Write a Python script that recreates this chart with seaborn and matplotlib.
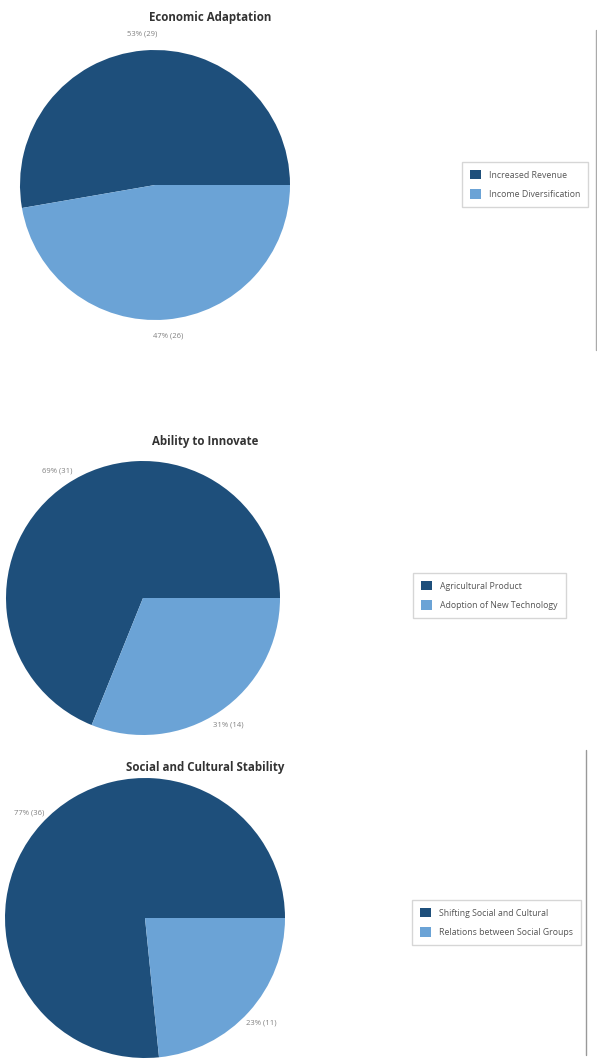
import matplotlib
matplotlib.use('Agg')
import matplotlib.pyplot as plt
import seaborn as sns
from matplotlib.lines import Line2D

sns.set_theme(style='white')
plt.rcParams['font.family'] = ['Open Sans', 'DejaVu Sans']

# datos
titulos = ['Economic Adaptation', 'Ability to Innovate', 'Social and Cultural Stability']
categorias = [
    ['Increased Revenue', 'Income Diversification'],
    ['Agricultural Product', 'Adoption of New Technology'],
    ['Shifting Social and Cultural', 'Relations between Social Groups'],
]
conteos_1 = [29, 26]
conteos_2 = [31, 14]
conteos_3 = [36, 11]
conteos = [conteos_1, conteos_2, conteos_3]

colores = ['#1e4f7b', '#6ba3d6']

W, H = 597, 1059
fig = plt.figure(figsize=(W / 100, H / 100), dpi=100)

# (centro x, centro y, radio) en pixeles, y posicion de titulo / leyenda
pies = [(155, 185, 135), (143, 598, 137), (145, 918, 140)]
tit_pos = [(210, 18), (205, 442), (205, 767)]
leg_pos = [(462, 162), (413, 573), (412, 900)]


def etiqueta(total):
    def f(pct):
        n = int(round(pct * total / 100.0))
        return f'{pct:.0f}% ({n})'
    return f


for i in range(3):
    cx, cy, r = pies[i]
    ax = fig.add_axes([(cx - r) / W, 1 - (cy + r) / H, 2 * r / W, 2 * r / H])
    cuñas, textos, autot = ax.pie(
        conteos[i], colors=colores, startangle=0, counterclock=True,
        autopct=etiqueta(sum(conteos[i])), pctdistance=1.12,
        textprops={'fontsize': 5.5, 'color': '#808080'},
        wedgeprops={'linewidth': 0})
    ax.set_aspect('equal')
    ax.set_xlim(-1, 1)
    ax.set_ylim(-1, 1)
    for t in autot:
        t.set_clip_on(False)

    tx, ty = tit_pos[i]
    fig.text(tx / W, 1 - ty / H, titulos[i], ha='center', va='center',
             fontsize=8.3, fontweight='bold', color='#333333')

    lx, ly = leg_pos[i]
    fig.legend(cuñas, categorias[i], loc='upper left',
               bbox_to_anchor=(lx / W, 1 - ly / H), fontsize=6.3,
               frameon=True, fancybox=False, edgecolor='#cccccc',
               labelcolor='#555555', handlelength=1.3, handleheight=1.3,
               borderpad=0.9, labelspacing=1.1, handletextpad=0.9,
               borderaxespad=0)

# bordes verticales de las capturas
fig.add_artist(Line2D([596 / W, 596 / W], [1 - 30 / H, 1 - 350 / H],
                      color='#aaaaaa', linewidth=1))
fig.add_artist(Line2D([586 / W, 586 / W], [1 - 750 / H, 1 - 1055 / H],
                      color='#999999', linewidth=1))

plt.savefig('out.png', dpi=100)
